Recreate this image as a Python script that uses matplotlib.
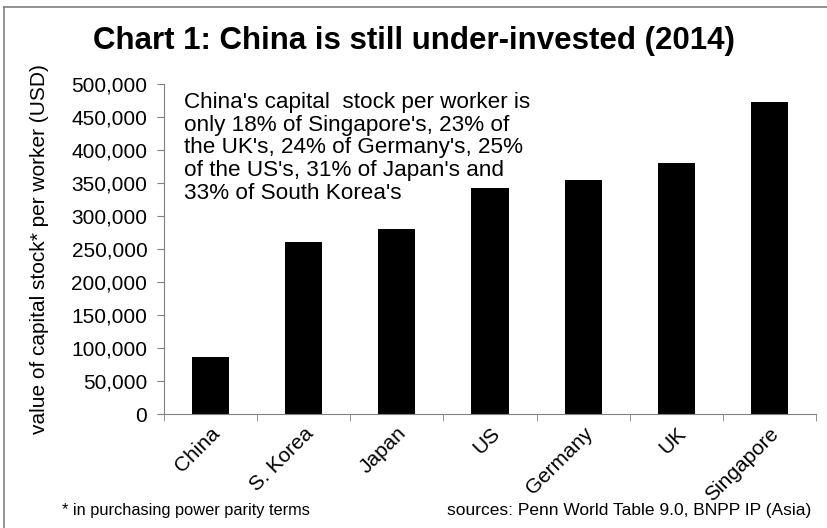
import matplotlib.pyplot as plt
from matplotlib.lines import Line2D
from matplotlib.ticker import FuncFormatter, FixedLocator
import numpy as np

plt.rcParams['font.family'] = ['Liberation Sans', 'DejaVu Sans']

countries = ['China', 'S. Korea', 'Japan', 'US', 'Germany', 'UK', 'Singapore']
capital_per_worker = [86000, 261000, 280000, 343000, 355000, 381000, 472000]

title = 'Chart 1: China is still under-invested (2014)'
note = ("China's capital  stock per worker is\n"
        "only 18% of Singapore's, 23% of\n"
        "the UK's, 24% of Germany's, 25%\n"
        "of the US's, 31% of Japan's and\n"
        "33% of South Korea's")
footnote = '* in purchasing power parity terms'
sources = 'sources: Penn World Table 9.0, BNPP IP (Asia)'

W, H = 827, 528
fig = plt.figure(figsize=(W / 100, H / 100), dpi=100)
ax = fig.add_axes([164 / W, 1 - 414 / H, 652 / W, 330 / H])

x = np.arange(len(countries))
ax.bar(x, capital_per_worker, width=0.4, color='black')

ax.set_xlim(-0.5, len(countries) - 0.5)
ax.set_ylim(0, 500000)
ax.set_yticks(np.arange(0, 500001, 50000))
ax.yaxis.set_major_formatter(FuncFormatter(lambda v, p: f'{int(v):,}'))

# category labels sit at bar centres, tick marks go on the boundaries
ax.set_xticks(x)
ax.set_xticklabels(countries, rotation=45, ha='right', rotation_mode='anchor',
                   fontsize=15)
ax.tick_params(axis='x', which='major', length=0, pad=7)
ax.xaxis.set_minor_locator(FixedLocator(np.arange(-0.5, len(countries), 1.0)))
ax.tick_params(axis='x', which='minor', length=5, color='#808080', direction='out')
ax.tick_params(axis='y', length=5, color='#808080', labelsize=15, pad=7)

for side in ['top', 'right']:
    ax.spines[side].set_visible(False)
for side in ['left', 'bottom']:
    ax.spines[side].set_color('#808080')

ax.set_ylabel('value of capital stock* per worker (USD)', fontsize=15,
              labelpad=16)

fig.text(0.5, 1 - 41 / H, title, ha='center', va='center', fontsize=22.5,
         fontweight='bold')
ax.text(0.03, 0.975, note, transform=ax.transAxes, ha='left', va='top',
        fontsize=16.2, linespacing=1.1)

fig.text(62 / W, 1 - 511 / H, footnote, ha='left', va='center', fontsize=11.8)
fig.text(811 / W, 1 - 511 / H, sources, ha='right', va='center', fontsize=12.5)

# frame lines along the top and left edge
fig.add_artist(Line2D([4 / W, 1], [1 - 7 / H, 1 - 7 / H], color='#808080', lw=1.2))
fig.add_artist(Line2D([4 / W, 4 / W], [0, 1 - 7 / H], color='#808080', lw=1.2))

fig.savefig('out.png', dpi=100)
